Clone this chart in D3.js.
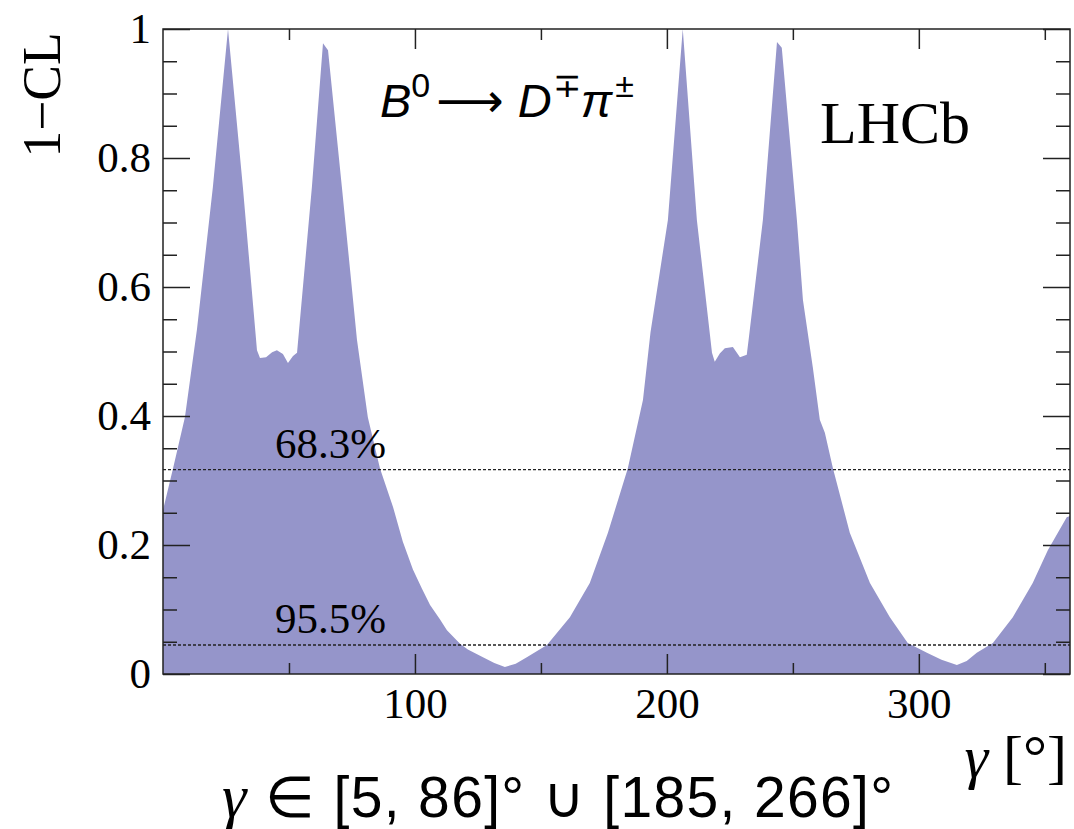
<!DOCTYPE html>
<html>
<head>
<meta charset="utf-8">
<script src="https://cdn.jsdelivr.net/npm/d3@7"></script>
<style>
  body { margin: 0; background: #fff; }
  svg { display: block; }
</style>
</head>
<body>
<svg width="1074" height="829"></svg>
<script>
// 1-CL scan as a function of gamma [deg]
const gammaDeg = [0, 4.0, 8.7, 13.5, 19.8, 25.8, 31.7, 37.3, 38.5, 40.9, 43.3, 45.2, 47.6, 49.6, 51.6, 53.2, 54.0,
  59.1, 63.5, 65.5, 71.0, 77.0, 81.3, 86.1, 91.3, 95.2, 99.2, 102.8, 106.0, 109.9, 112.7, 117.9, 121.0, 127.0, 131.5, 135.7,
  140.0, 144.4, 152.4, 161.5, 169.4, 176.6, 184.5, 190.5, 193.5, 200.4, 206.3, 211.9, 217.9, 219.0, 221.0, 223.0, 226.2, 229.0,
  231.7, 232.5, 238.1, 243.7, 245.6, 251.6, 254.0, 257.9, 260.7, 262.7, 265.9, 272.6, 280.6, 288.5, 295.6, 303.2, 309.0,
  315.1, 319.0, 323.0, 329.4, 337.3, 345.2, 351.2, 358.7, 360];
const oneMinusCL = [0.254, 0.319, 0.398, 0.535, 0.755, 1.0, 0.755, 0.502, 0.490, 0.491, 0.499, 0.502, 0.496, 0.482, 0.493, 0.498, 0.533,
  0.755, 0.978, 0.967, 0.755, 0.518, 0.398, 0.319, 0.259, 0.205, 0.162, 0.132, 0.107, 0.085, 0.068, 0.047, 0.038, 0.026, 0.017, 0.011,
  0.016, 0.026, 0.045, 0.088, 0.141, 0.219, 0.319, 0.425, 0.530, 0.704, 1.0, 0.704, 0.498, 0.484, 0.497, 0.505, 0.507, 0.491,
  0.495, 0.520, 0.704, 0.980, 0.971, 0.704, 0.580, 0.476, 0.394, 0.374, 0.319, 0.219, 0.141, 0.088, 0.048, 0.033, 0.022,
  0.014, 0.020, 0.033, 0.048, 0.088, 0.141, 0.192, 0.243, 0.245];

const clLevels = [0.317, 0.045];
const clLabels = ["68.3%", "95.5%"];
const xMajor = [100, 200, 300];
const xMinor = [50, 150, 250, 350];
const yMajor = [0, 0.2, 0.4, 0.6, 0.8, 1];
const yMinor = d3.range(0.05, 1, 0.05).filter(v => Math.abs(v * 5 - Math.round(v * 5)) > 1e-6);

const svg = d3.select("svg");
const plotL = 163, plotR = 1070, plotT = 29, plotB = 674;

const x = d3.scaleLinear().domain([0, 360]).range([plotL, plotR]);
const y = d3.scaleLinear().domain([0, 1]).range([plotB, plotT]);

const serif = "'Liberation Serif', 'Times New Roman', serif";
const sans = "'Liberation Sans', Arial, sans-serif";

svg.append("clipPath").attr("id", "plot")
  .append("rect").attr("x", plotL).attr("y", plotT).attr("width", plotR - plotL).attr("height", plotB - plotT);

// filled scan
const pts = gammaDeg.map((g, i) => [g, oneMinusCL[i]]);
svg.append("path")
  .datum(pts)
  .attr("clip-path", "url(#plot)")
  .attr("fill", "#9595ca")
  .attr("d", d3.area().x(d => x(d[0])).y0(y(0)).y1(d => y(d[1])));

// CL lines
svg.selectAll(".cl").data(clLevels).enter().append("line")
  .attr("x1", plotL).attr("x2", plotR)
  .attr("y1", d => y(d)).attr("y2", d => y(d))
  .attr("stroke", "#222").attr("stroke-width", 1.3)
  .attr("stroke-dasharray", "3,2");

svg.selectAll(".cllab").data(clLabels).enter().append("text")
  .attr("x", 275)
  .attr("y", (d, i) => y(clLevels[i]) - 12)
  .style("font-family", serif).style("font-size", "43px")
  .text(d => d);

// axes, ticks pointing inwards
function styleAxis(g) {
  g.select(".domain").remove();
  g.selectAll("line").attr("stroke", "#222").attr("stroke-width", 1.5);
  g.selectAll("text").style("font-family", serif).style("font-size", "43px").attr("fill", "#000");
}

svg.append("g").attr("transform", `translate(0,${plotB})`)
  .call(d3.axisBottom(x).tickValues(xMajor).tickSize(-20).tickPadding(13).tickFormat(d3.format("d")))
  .call(styleAxis);
svg.append("g").attr("transform", `translate(0,${plotB})`)
  .call(d3.axisBottom(x).tickValues(xMinor).tickSize(-11).tickFormat(""))
  .call(styleAxis);
svg.append("g").attr("transform", `translate(0,${plotT})`)
  .call(d3.axisTop(x).tickValues(xMajor).tickSize(-20).tickFormat(""))
  .call(styleAxis);
svg.append("g").attr("transform", `translate(0,${plotT})`)
  .call(d3.axisTop(x).tickValues(xMinor).tickSize(-11).tickFormat(""))
  .call(styleAxis);

svg.append("g").attr("transform", `translate(${plotL},0)`)
  .call(d3.axisLeft(y).tickValues(yMajor).tickSize(-27).tickPadding(12).tickFormat(d3.format("~g")))
  .call(styleAxis);
svg.append("g").attr("transform", `translate(${plotL},0)`)
  .call(d3.axisLeft(y).tickValues(yMinor).tickSize(-14).tickFormat(""))
  .call(styleAxis);
svg.append("g").attr("transform", `translate(${plotR},0)`)
  .call(d3.axisRight(y).tickValues(yMajor).tickSize(-27).tickFormat(""))
  .call(styleAxis);
svg.append("g").attr("transform", `translate(${plotR},0)`)
  .call(d3.axisRight(y).tickValues(yMinor).tickSize(-14).tickFormat(""))
  .call(styleAxis);

// frame
svg.append("rect")
  .attr("x", plotL).attr("y", plotT).attr("width", plotR - plotL).attr("height", plotB - plotT)
  .attr("fill", "none").attr("stroke", "#222").attr("stroke-width", 1.5);

// axis titles
svg.append("text")
  .attr("transform", "translate(60,95) rotate(-90)")
  .attr("text-anchor", "middle")
  .attr("textLength", 125).attr("lengthAdjust", "spacingAndGlyphs")
  .style("font-family", serif).style("font-size", "54px")
  .text("1\u2212CL");

const gx = svg.append("text")
  .attr("x", 1067).attr("y", 777)
  .attr("text-anchor", "end")
  .style("font-family", serif).style("font-size", "60px");
gx.append("tspan").style("font-style", "italic").text("\u03b3");
gx.append("tspan").text(" [\u00b0]");

// labels
svg.append("text")
  .attr("x", 820).attr("y", 143)
  .style("font-family", serif).style("font-size", "60px")
  .text("LHCb");

const decay = svg.append("text")
  .attr("x", 380).attr("y", 117)
  .style("font-family", sans).style("font-size", "47px");
decay.append("tspan").style("font-style", "italic").text("B");
decay.append("tspan").attr("dy", -20).style("font-size", "34px").text("0");
decay.append("tspan").attr("dy", 20).attr("dx", 6)
  .style("font-family", "'DejaVu Sans', sans-serif").text("\u27f6");
decay.append("tspan").attr("dx", 14).style("font-style", "italic").text("D");
decay.append("tspan").attr("dy", -20).attr("dx", 1).style("font-size", "34px").text("\u2213");
decay.append("tspan").attr("dy", 20).style("font-style", "italic").text("\u03c0");
decay.append("tspan").attr("dy", -20).attr("dx", 3).style("font-size", "34px").text("\u00b1");

const range = svg.append("text")
  .attr("x", 222).attr("y", 817)
  .attr("textLength", 671).attr("lengthAdjust", "spacing")
  .style("font-family", sans).style("font-size", "57px");
range.append("tspan").style("font-family", serif).style("font-style", "italic").style("font-size", "62px").text("\u03b3");
range.append("tspan").text(" \u2208 [5, 86]\u00b0 \u222a [185, 266]\u00b0");
</script>
</body>
</html>
